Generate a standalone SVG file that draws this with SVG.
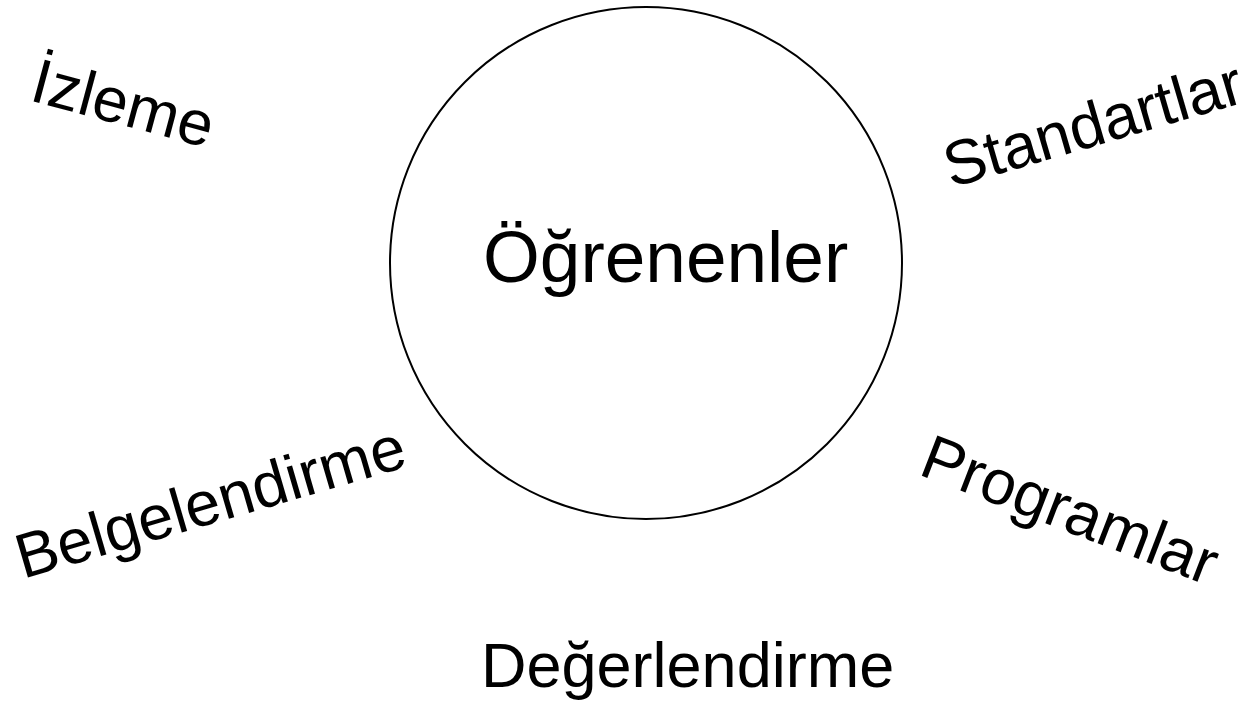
<svg xmlns="http://www.w3.org/2000/svg" width="1253" height="702" viewBox="0 0 1253 702">
<style>
.t{font-family:"Liberation Sans",Arial,sans-serif;fill:#000}
.lbl{font-size:63px}
</style>
<rect width="1253" height="702" fill="#fff"/>
<g id="center">
<circle cx="646" cy="263" r="256" fill="none" stroke="#000" stroke-width="2"/>
<text class="t" x="483" y="282" font-size="73">Öğrenenler</text>
</g>
<g id="izleme"><text class="t lbl" transform="translate(28,100) rotate(15)">İzleme</text></g>
<g id="standartlar"><text class="t lbl" font-size="61" transform="translate(951,188) rotate(-16.3)">Standartlar</text></g>
<g id="belgelendirme"><text class="t lbl" transform="translate(23,579) rotate(-16.3)">Belgelendirme</text></g>
<g id="programlar"><text class="t lbl" font-size="61" transform="translate(917,474) rotate(21)">Programlar</text></g>
<g id="degerlendirme"><text class="t lbl" x="481" y="687">Değerlendirme</text></g>
<g id="connectors"/>
</svg>
